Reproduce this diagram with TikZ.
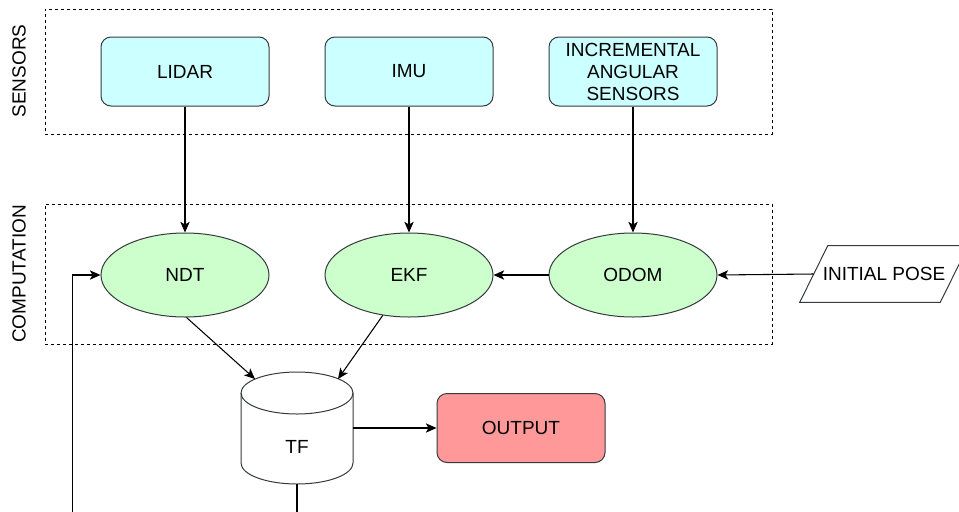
\documentclass[tikz,border=0pt]{standalone}
\usepackage{fontspec}
\setmainfont{Liberation Sans}
\usetikzlibrary{arrows.meta,shapes.geometric,calc}
\definecolor{cyanfill}{HTML}{CCFFFF}
\definecolor{greenfill}{HTML}{CCFFCC}
\definecolor{redfill}{HTML}{FF9999}
\definecolor{edgecol}{HTML}{36393D}
\begin{document}
\begin{tikzpicture}[x=0.75pt,y=-0.75pt,
  font=\fontsize{14.25}{16.5}\selectfont,
  sensorbox/.style={draw=edgecol, line width=0.75pt, fill=cyanfill, rounded corners=7.5pt,
    minimum width=126pt, minimum height=51.75pt, align=center, inner sep=0pt},
  outbox/.style={sensorbox, fill=redfill},
  procell/.style={ellipse, draw=edgecol, line width=0.75pt, fill=greenfill,
    minimum width=126pt, minimum height=63pt, inner sep=0pt},
  group/.style={draw=black, line width=0.75pt, dash pattern=on 2.25pt off 2.25pt,
    minimum width=545.25pt, inner sep=0pt},
  grouplabel/.style={rotate=90, inner sep=0pt},
  arr/.style={draw=black, line width=0.8pt, -{Stealth[length=8pt,width=7pt,inset=2pt]}},
]
\useasboundingbox (0,0) rectangle (959,511);
\clip (0,0) rectangle (959,511);

% groups
\node[group, minimum height=93.75pt] (sensors) at (408.5,71.5) {};
\node[group, minimum height=105pt] (comp) at (408.5,274) {};
\node[grouplabel] (sensorslbl) at (19,71) {SENSORS};
\node[grouplabel] (complbl) at (19,274) {COMPUTATION};

% sensors
\node[sensorbox] (lidar) at (185,71.5) {LIDAR};
\node[sensorbox] (imu) at (409,71.5) {IMU};
\node[sensorbox] (ias) at (633,71.5) {INCREMENTAL\\ANGULAR\\SENSORS};

% computation
\node[procell] (ndt) at (185,275) {NDT};
\node[procell] (ekf) at (409,275) {EKF};
\node[procell] (odom) at (633,275) {ODOM};

% initial pose
\node[minimum width=105pt, minimum height=42pt, inner sep=0pt] (pose) at (884,274) {INITIAL POSE};
\draw[draw=edgecol, line width=0.75pt] ($(pose.north west)+(14,0)$) -- ($(pose.north east)+(14,0)$)
  -- ($(pose.south east)+(-14,0)$) -- ($(pose.south west)+(-14,0)$) -- cycle;

% TF cylinder
\draw[draw=edgecol, line width=0.75pt, fill=white] (241,393) -- (241,463)
  arc[start angle=180, end angle=0, x radius=56, y radius=21] -- (353,393)
  arc[start angle=0, end angle=-180, x radius=56, y radius=21] -- cycle;
\draw[draw=edgecol, line width=0.75pt] (241,393) arc[start angle=180, end angle=0, x radius=56, y radius=21];
\node[minimum width=84pt, minimum height=84pt, inner sep=0pt] (tfbody) at (297,428) {};
\node (tf) at (297,447) {TF};
\coordinate (tfinL) at (255,379);
\coordinate (tfinR) at (338,379);

% output
\node[outbox] (out) at (521,428) {OUTPUT};

% connectors
\draw[arr] (lidar.south) -- (ndt.north);
\draw[arr] (imu.south) -- (ekf.north);
\draw[arr] (ias.south) -- (odom.north);
\draw[arr] (odom.west) -- (ekf.east);
\draw[arr] (pose.west) -- (odom.east);
\draw[arr] (ndt.-88) -- (tfinL);
\draw[arr] (ekf.237) -- (tfinR);
\draw[arr] (tfbody.east) -- (out.west);
\draw[arr] (tfbody.south) -- ++(0,40) -| ([xshift=-21pt]ndt.west) -- (ndt.west);
\end{tikzpicture}
\end{document}
